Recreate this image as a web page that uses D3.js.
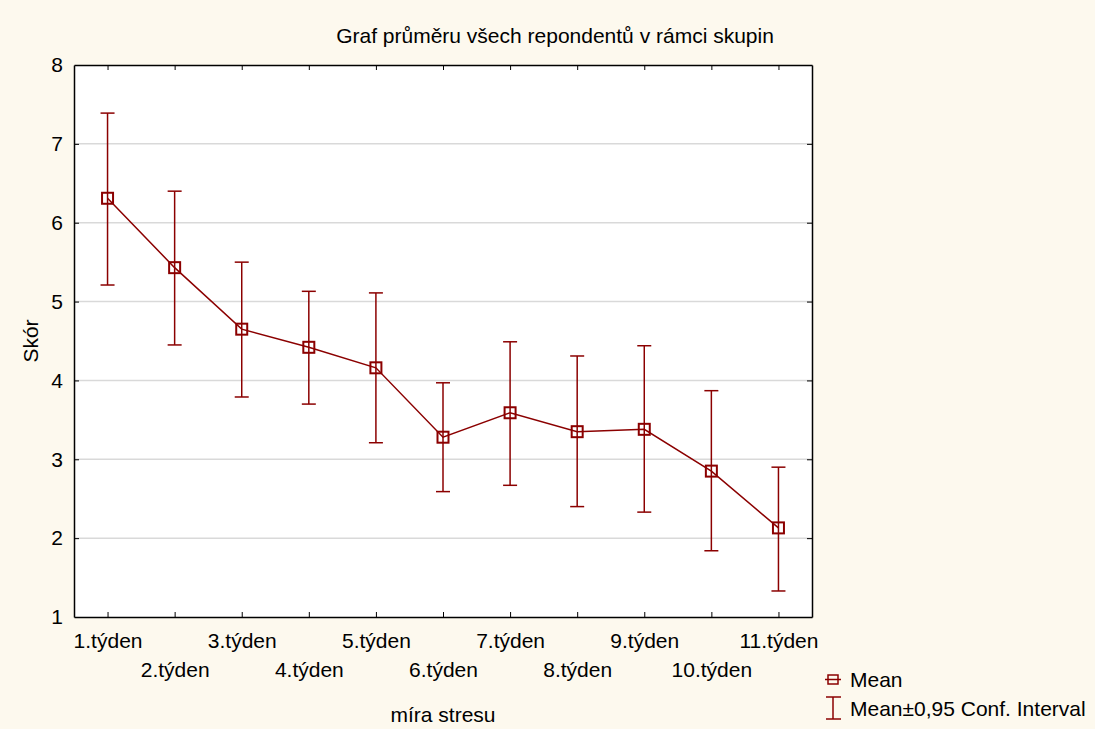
<!DOCTYPE html>
<html><head><meta charset="utf-8">
<script src="https://cdn.jsdelivr.net/npm/d3@7"></script>
<style>body{margin:0;background:#fdf9ee;}svg{display:block;font-family:"Liberation Sans",Arial,sans-serif;}</style>
</head><body>
<script>
const categories = ["1.týden","2.týden","3.týden","4.týden","5.týden","6.týden","7.týden","8.týden","9.týden","10.týden","11.týden"];
const means = [6.31,5.43,4.65,4.42,4.16,3.28,3.59,3.35,3.38,2.85,2.13];
const upper = [7.39,6.40,5.50,5.13,5.11,3.97,4.49,4.31,4.44,3.87,2.90];
const lower = [5.21,4.45,3.79,3.70,3.21,2.59,2.67,2.40,2.33,1.84,1.33];
const yTicks = [1,2,3,4,5,6,7,8];
const title = "Graf průměru všech repondentů v rámci skupin";
const xTitle = "míra stresu";
const yTitle = "Skór";
const legendLabels = ["Mean","Mean±0,95 Conf. Interval"];

const W=1095,H=729, FS=21;
const m={l:74,t:65,r:812,b:617};
const col="#8b0000";
const svg=d3.select("body").append("svg").attr("width",W).attr("height",H);
svg.append("rect").attr("width",W).attr("height",H).attr("fill","#fdf9ee");
svg.append("rect").attr("x",m.l).attr("y",m.t).attr("width",m.r-m.l).attr("height",m.b-m.t).attr("fill","#fff");

const x=d3.scalePoint().domain(categories).range([m.l,m.r]).padding(0.5);
const y=d3.scaleLinear().domain([1,8]).range([m.b,m.t]);

// grid
svg.append("g").selectAll("line").data(yTicks.slice(1,-1)).join("line")
 .attr("x1",m.l).attr("x2",m.r).attr("y1",d=>y(d)).attr("y2",d=>y(d))
 .attr("stroke","#d9d9d9").attr("stroke-width",1.5);

// axes
const gl=svg.append("g").attr("transform",`translate(${m.l},0)`)
 .call(d3.axisLeft(y).tickValues(yTicks).tickFormat(d3.format("d")).tickSizeInner(-5).tickSizeOuter(0).tickPadding(11));
const gr=svg.append("g").attr("transform",`translate(${m.r},0)`)
 .call(d3.axisRight(y).tickValues(yTicks).tickSizeInner(-5).tickSizeOuter(0).tickFormat(""));
const gb=svg.append("g").attr("transform",`translate(0,${m.b})`)
 .call(d3.axisBottom(x).tickSizeInner(-5).tickSizeOuter(0));
const gt=svg.append("g").attr("transform",`translate(0,${m.t})`)
 .call(d3.axisTop(x).tickSizeInner(-5).tickSizeOuter(0).tickFormat(""));
[gl,gr,gb,gt].forEach(g=>{g.select(".domain").attr("stroke","#000").attr("stroke-width",1.5);
 g.selectAll(".tick line").attr("stroke","#000");});
gl.selectAll(".tick text").attr("font-size",FS).attr("fill","#000").attr("font-family","Liberation Sans, Arial, sans-serif");
gb.selectAll(".tick text").attr("font-size",FS).attr("fill","#000").attr("font-family","Liberation Sans, Arial, sans-serif")
 .attr("y",0).attr("dy",(d,i)=>i%2===0?"31px":"60px");
gl.selectAll(".tick").filter(d=>d===1||d===8).select("line").remove();

// error bars
const eb=svg.append("g").attr("stroke",col).attr("stroke-width",1.5);
categories.forEach((c,i)=>{
 const cx=x(c);
 eb.append("line").attr("x1",cx).attr("x2",cx).attr("y1",y(upper[i])).attr("y2",y(lower[i]));
 eb.append("line").attr("x1",cx-7).attr("x2",cx+7).attr("y1",y(upper[i])).attr("y2",y(upper[i]));
 eb.append("line").attr("x1",cx-7).attr("x2",cx+7).attr("y1",y(lower[i])).attr("y2",y(lower[i]));
});
// line
svg.append("path").datum(means).attr("fill","none").attr("stroke",col).attr("stroke-width",1.5)
 .attr("d",d3.line().x((d,i)=>x(categories[i])).y(d=>y(d)));
// markers
svg.append("g").selectAll("rect").data(means).join("rect")
 .attr("x",(d,i)=>x(categories[i])-5.5).attr("y",d=>y(d)-5.5).attr("width",11).attr("height",11)
 .attr("fill","none").attr("stroke",col).attr("stroke-width",2);

// titles
svg.append("text").attr("x",555).attr("y",43).attr("text-anchor","middle").attr("font-size",FS).text(title);
svg.append("text").attr("x",443).attr("y",722).attr("text-anchor","middle").attr("font-size",FS).text(xTitle);
svg.append("text").attr("transform","translate(38,341) rotate(-90)").attr("text-anchor","middle").attr("font-size",FS).text(yTitle);

// legend
const lg=svg.append("g");
lg.append("rect").attr("x",828).attr("y",675).attr("width",10).attr("height",9).attr("fill","none").attr("stroke",col).attr("stroke-width",1.5);
lg.append("line").attr("x1",825).attr("x2",841).attr("y1",679.5).attr("y2",679.5).attr("stroke",col).attr("stroke-width",1.5);
lg.append("line").attr("x1",833).attr("x2",833).attr("y1",697).attr("y2",719).attr("stroke",col).attr("stroke-width",1.5);
lg.append("line").attr("x1",826).attr("x2",841).attr("y1",697).attr("y2",697).attr("stroke",col).attr("stroke-width",1.5);
lg.append("line").attr("x1",826).attr("x2",841).attr("y1",719).attr("y2",719).attr("stroke",col).attr("stroke-width",1.5);
lg.append("text").attr("x",850).attr("y",687).attr("font-size",FS).text(legendLabels[0]);
lg.append("text").attr("x",850).attr("y",716).attr("font-size",FS).text(legendLabels[1]);
</script>
</body></html>
